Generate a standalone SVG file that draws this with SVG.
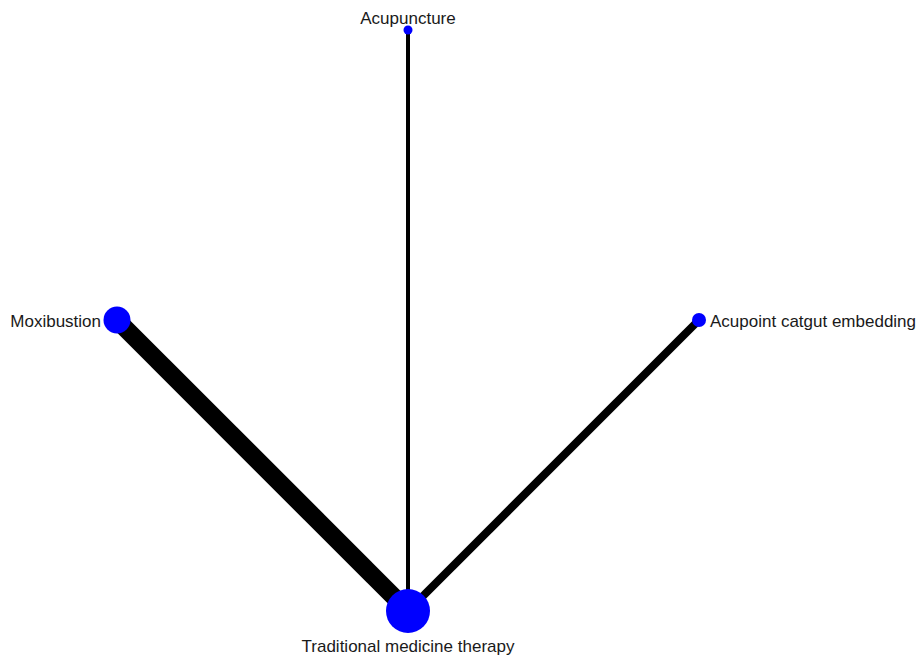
<svg xmlns="http://www.w3.org/2000/svg" width="921" height="660" viewBox="0 0 921 660">
  <style>
    .edge { stroke: #000; stroke-linecap: butt; fill: none; }
    .node { fill: #0000ff; }
    .label { font-family: "Liberation Sans", Arial, sans-serif; font-size: 17px; fill: #1a1a1a; }
  </style>
  <rect width="921" height="660" fill="#fff"/>
  <g id="edges">
    <line class="edge" x1="117" y1="320" x2="408" y2="611" stroke-width="18"/>
    <line class="edge" x1="408" y1="30" x2="408" y2="611" stroke-width="4"/>
    <line class="edge" x1="699" y1="320" x2="408" y2="611" stroke-width="8"/>
  </g>
  <g id="node-acupuncture">
    <circle class="node" cx="408" cy="30" r="4.5"/>
    <text class="label" x="408" y="24" text-anchor="middle">Acupuncture</text>
  </g>
  <g id="node-moxibustion">
    <circle class="node" cx="117" cy="320" r="13.5"/>
    <text class="label" x="101" y="327" text-anchor="end">Moxibustion</text>
  </g>
  <g id="node-acupoint">
    <circle class="node" cx="699" cy="320" r="7"/>
    <text class="label" x="710" y="327">Acupoint catgut embedding</text>
  </g>
  <g id="node-tmt">
    <circle class="node" cx="408" cy="611" r="22"/>
    <text class="label" x="408" y="652" text-anchor="middle">Traditional medicine therapy</text>
  </g>
</svg>
